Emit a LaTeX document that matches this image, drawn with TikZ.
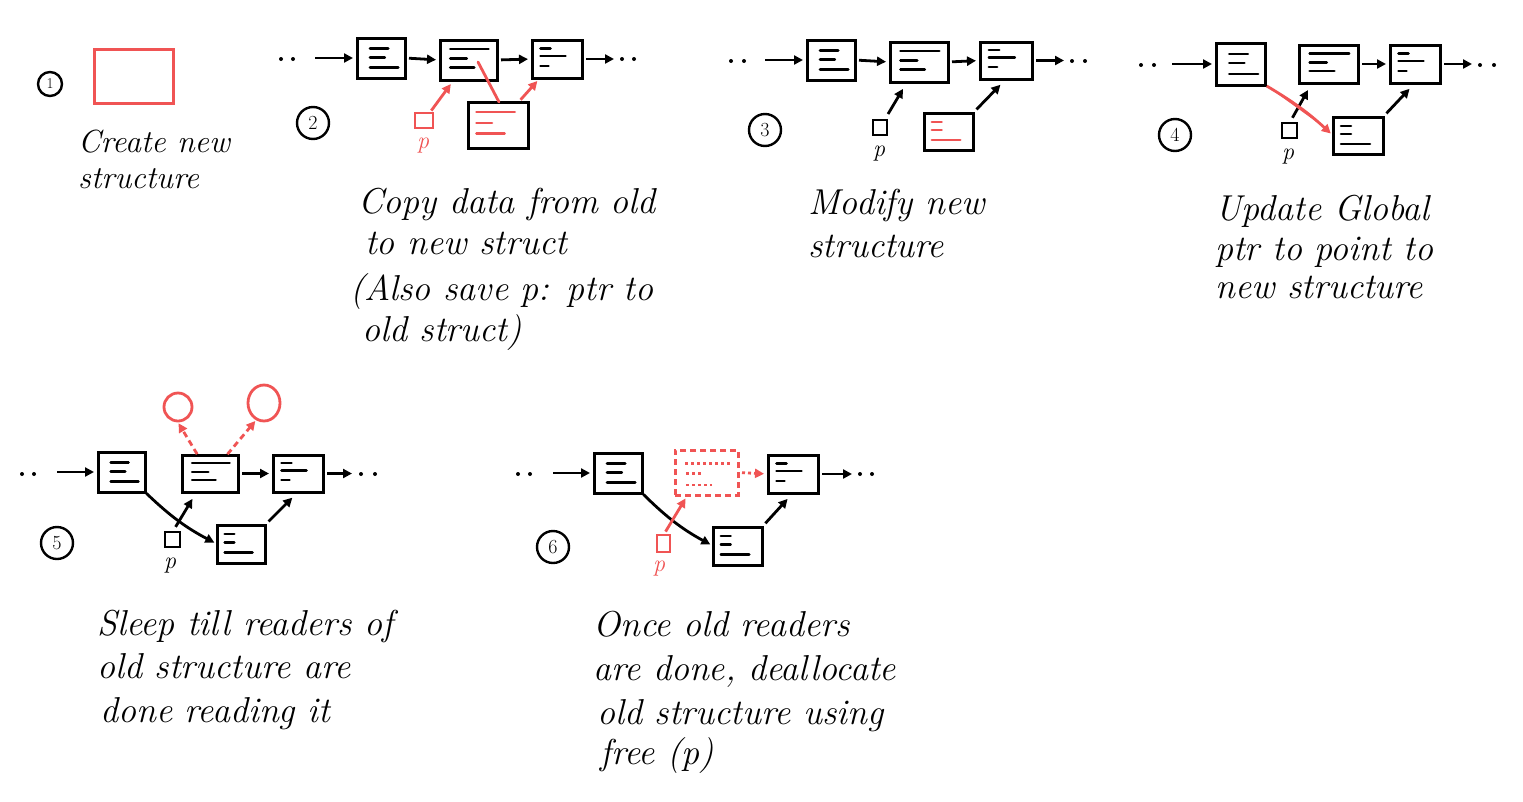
\documentclass[tikz,border=0pt]{standalone}
\usetikzlibrary{arrows.meta,calc,shapes.geometric}
\definecolor{hred}{RGB}{240,84,84}
\tikzset{
  sbox/.style={draw, line width=3pt, inner sep=0pt, outer sep=0pt},
  inl/.style={line width=2.6pt, line cap=round},
  inlred/.style={inl, draw=hred},
  inldot/.style={line width=2.6pt, draw=hred, dash pattern=on 3pt off 3pt},
  arr/.style={line width=2.8pt, -{Triangle[length=9pt,width=9pt]}, shorten >=4pt, shorten <=4pt},
  rarr/.style={arr, draw=hred, fill=hred},
  rdarr/.style={arr, draw=hred, dash pattern=on 6pt off 4pt},
  rdotarr/.style={arr, draw=hred, dash pattern=on 3pt off 3pt},
  circnum/.style={circle, draw, line width=2.4pt, minimum size=32pt, inner sep=0pt, font=\fontsize{20}{20}\selectfont},
  psq/.style={draw, line width=2.6pt, inner sep=0pt, outer sep=0pt},
  plab/.style={inner sep=0pt, font=\fontsize{24}{24}\selectfont\itshape},
  txt/.style={anchor=base west, inner sep=0pt, font=\fontsize{36}{40}\selectfont\itshape},
  txtsm/.style={txt, font=\fontsize{32}{34}\selectfont\itshape},
  dot/.style={circle, fill, inner sep=0pt, minimum size=4pt}
}
\newcommand\boxline[5]{%
  \draw[#1] ($ ($(#2.north west)!#3!(#2.south west)$)!#4!($(#2.north east)!#3!(#2.south east)$) $) -- ($ ($(#2.north west)!#3!(#2.south west)$)!#5!($(#2.north east)!#3!(#2.south east)$) $);}
\newcommand\linesA[2]{\boxline{#2}{#1}{0.26}{0.27}{0.65}\boxline{#2}{#1}{0.48}{0.27}{0.58}\boxline{#2}{#1}{0.74}{0.27}{0.86}}
\newcommand\linesB[2]{\boxline{#2}{#1}{0.22}{0.18}{0.85}\boxline{#2}{#1}{0.46}{0.18}{0.47}\boxline{#2}{#1}{0.68}{0.18}{0.6}}
\newcommand\linesC[2]{\boxline{#2}{#1}{0.22}{0.17}{0.37}\boxline{#2}{#1}{0.42}{0.17}{0.67}\boxline{#2}{#1}{0.68}{0.17}{0.33}}
\newcommand\linesM[2]{\boxline{#2}{#1}{0.22}{0.14}{0.78}\boxline{#2}{#1}{0.46}{0.14}{0.4}\boxline{#2}{#1}{0.68}{0.14}{0.61}}
\newcommand\linesN[2]{\boxline{#2}{#1}{0.24}{0.16}{0.36}\boxline{#2}{#1}{0.46}{0.16}{0.36}\boxline{#2}{#1}{0.73}{0.16}{0.74}}
\begin{document}
\begin{tikzpicture}[x=1pt,y=1pt]
\useasboundingbox[fill=white] (0,0) rectangle (1523,-801);

% ---------- Panel 1 ----------
\node[circnum, minimum size=24pt, font=\fontsize{15}{15}\selectfont] (c1) at (50,-84) {1};
\node[draw=hred, line width=3pt, minimum width=79pt, minimum height=54pt] (R1) at (133.5,-76) {};
\node[txtsm] (t1a) at (78,-152) {Create new};
\node[txtsm] (t1b) at (78,-188) {structure};

% ---------- Panel 2 ----------
\node[circnum] (c2) at (313,-123) {2};
\node[sbox, minimum width=48pt, minimum height=40pt] (A2) at (381,-58) {};
\node[sbox, minimum width=57pt, minimum height=40pt] (B2) at (468.5,-60) {};
\node[sbox, minimum width=50pt, minimum height=38pt] (C2) at (557,-59) {};
\node[sbox, minimum width=60pt, minimum height=46pt] (N2) at (498,-125) {};
\node[psq, draw=hred, minimum width=18pt, minimum height=15pt] (p2) at (424,-120.5) {};
\node[plab, text=hred] (pl2) at (423,-146) {p};
\linesA{A2}{inl}\linesB{B2}{inl}\linesC{C2}{inl}\linesM{N2}{inlred}
\node[dot] (d2a) at (281,-59) {}; \node[dot] (d2b) at (293,-59) {};
\coordinate (s2) at (315,-58);
\coordinate (e2) at (614,-59);
\node[dot] (d2c) at (622,-59) {}; \node[dot] (d2d) at (634,-59) {};
\draw[arr, shorten <=0pt] (s2) -- (A2.west);
\draw[arr] (A2.east) -- (B2.west);
\draw[arr] (B2.east) -- (C2.west);
\draw[arr, shorten >=0pt] (C2.east) -- (e2);
\draw[rarr, shorten <=3pt, shorten >=5pt] (p2) -- (B2);
\draw[rarr, shorten <=3pt, shorten >=4pt] (N2) -- (C2);
\draw[inlred, line width=2.8pt] ($(B2.center)+(9.5,-2)$) -- ([xshift=1pt]N2.north);
\node[txt] (t2a) at (358,-213) {Copy data from old};
\node[txt] (t2b) at (365,-254) {to new struct};
\node[txt] (t2c) at (350,-300) {(Also save p: ptr to};
\node[txt] (t2d) at (362,-341) {old struct)};

% ---------- Panel 3 ----------
\node[circnum] (c3) at (765,-130) {3};
\node[sbox, minimum width=48pt, minimum height=40pt] (A3) at (831,-60) {};
\node[sbox, minimum width=58pt, minimum height=40pt] (B3) at (919,-62) {};
\node[sbox, minimum width=52pt, minimum height=37pt] (C3) at (1006,-60.5) {};
\node[sbox, minimum width=49pt, minimum height=37pt] (N3) at (948.5,-131.5) {};
\node[psq, minimum width=14pt, minimum height=15pt] (p3) at (880,-127.5) {};
\node[plab] (pl3) at (879,-154) {p};
\linesA{A3}{inl}\linesB{B3}{inl}\linesC{C3}{inl}\linesN{N3}{inlred}
\node[dot] (d3a) at (731,-61) {}; \node[dot] (d3b) at (744,-61) {};
\coordinate (s3) at (765,-60);
\coordinate (e3) at (1064,-60.5);
\node[dot] (d3c) at (1072,-61) {}; \node[dot] (d3d) at (1085,-61) {};
\draw[arr, shorten <=0pt] (s3) -- (A3.west);
\draw[arr] (A3.east) -- (B3.west);
\draw[arr] (B3.east) -- (C3.west);
\draw[arr, shorten >=0pt] (C3.east) -- (e3);
\draw[arr, shorten <=7pt, shorten >=8pt] (p3) -- (B3);
\draw[arr, shorten <=5pt, shorten >=8pt] (N3.north east) -- (C3.south);
\node[txt] (t3a) at (808,-214) {Modify new};
\node[txt] (t3b) at (808,-257) {structure};

% ---------- Panel 4 ----------
\node[circnum] (c4) at (1175,-135) {4};
\node[sbox, minimum width=49pt, minimum height=42pt] (A4) at (1240.5,-64) {};
\node[sbox, minimum width=59pt, minimum height=38pt] (B4) at (1328.5,-64) {};
\node[sbox, minimum width=50pt, minimum height=38pt] (C4) at (1415,-64) {};
\node[sbox, minimum width=50pt, minimum height=37pt] (N4) at (1358,-135.5) {};
\node[psq, minimum width=15pt, minimum height=15pt] (p4) at (1289.5,-130.5) {};
\node[plab] (pl4) at (1288,-157) {p};
\linesA{A4}{inl}\linesB{B4}{inl}\linesC{C4}{inl}\linesN{N4}{inl}
\node[dot] (d4a) at (1141,-65) {}; \node[dot] (d4b) at (1154,-65) {};
\coordinate (s4) at (1172,-64);
\coordinate (e4) at (1472,-64);
\node[dot] (d4c) at (1480,-65) {}; \node[dot] (d4d) at (1494,-65) {};
\draw[arr, shorten <=0pt] (s4) -- (A4.west);
\draw[arr] (B4.east) -- (C4.west);
\draw[arr, shorten >=0pt] (C4.east) -- (e4);
\draw[arr, shorten <=6pt, shorten >=8pt] (p4.north) -- ($(B4.south west)!0.22!(B4.south east)$);
\draw[arr, shorten <=5pt, shorten >=8pt] (N4.north east) -- (C4.south);
\draw[rarr, shorten <=2pt, shorten >=3pt] (A4.south east) to[bend left=6] (N4.west);
\node[txt] (t4a) at (1215,-220) {Update Global};
\node[txt] (t4b) at (1215,-260) {ptr to point to};
\node[txt] (t4c) at (1215,-298) {new structure};

% ---------- Panel 5 ----------
\node[circnum] (c5) at (57,-543) {5};
\node[sbox, minimum width=47pt, minimum height=40pt] (A5) at (121.5,-472) {};
\node[sbox, minimum width=56pt, minimum height=37pt] (B5) at (210,-473.5) {};
\node[sbox, minimum width=50pt, minimum height=37pt] (C5) at (298,-473.5) {};
\node[sbox, minimum width=48pt, minimum height=38pt] (N5) at (241,-544) {};
\node[psq, minimum width=15pt, minimum height=15pt] (p5) at (172.5,-539.5) {};
\node[plab] (pl5) at (170,-566) {p};
\node[ellipse, draw=hred, line width=2.8pt, minimum width=28pt, minimum height=28pt, inner sep=0pt] (E1) at (178,-407) {};
\node[ellipse, draw=hred, line width=2.8pt, minimum width=32pt, minimum height=36pt, inner sep=0pt] (E2) at (264,-403) {};
\linesA{A5}{inl}\linesB{B5}{inl}\linesC{C5}{inl}\linesN{N5}{inl}
\node[dot] (d5a) at (22,-474) {}; \node[dot] (d5b) at (34,-474) {};
\coordinate (s5) at (57,-472);
\coordinate (e5) at (352,-473.5);
\node[dot] (d5c) at (361,-474) {}; \node[dot] (d5d) at (375,-474) {};
\draw[arr, shorten <=0pt] (s5) -- (A5.west);
\draw[arr] (B5.east) -- (C5.west);
\draw[arr, shorten >=0pt] (C5.east) -- (e5);
\draw[arr, shorten <=6pt, shorten >=8pt] (p5.north) -- ($(B5.south west)!0.26!(B5.south east)$);
\draw[arr, shorten <=5pt, shorten >=8pt] (N5.north east) -- (C5.south);
\draw[arr, shorten <=2pt, shorten >=3pt] (A5.south east) to[bend right=8] (N5.west);
\draw[rdarr, shorten <=1pt, shorten >=1pt] ($(B5.north west)!0.28!(B5.north east)$) -- (E1.south);
\draw[rdarr, shorten <=1pt, shorten >=1pt] ($(B5.north west)!0.8!(B5.north east)$) -- (E2.245);
\node[txt] (t5a) at (97,-635) {Sleep till readers of};
\node[txt] (t5b) at (97,-678) {old structure are};
\node[txt] (t5c) at (100,-722) {done reading it};

% ---------- Panel 6 ----------
\node[circnum] (c6) at (553,-547) {6};
\node[sbox, minimum width=48pt, minimum height=40pt] (A6) at (618,-473) {};
\node[sbox, draw=hred, dash pattern=on 6pt off 4pt, minimum width=63pt, minimum height=45pt] (D6) at (706.5,-472.5) {};
\node[sbox, minimum width=50pt, minimum height=38pt] (C6) at (793,-474) {};
\node[sbox, minimum width=49pt, minimum height=38pt] (N6) at (737.5,-546) {};
\node[psq, draw=hred, minimum width=13pt, minimum height=17pt] (p6) at (663.5,-543.5) {};
\node[plab, text=hred] (pl6) at (659,-569) {p};
\linesA{A6}{inl}\linesC{C6}{inl}\linesN{N6}{inl}
\boxline{inldot}{D6}{0.3}{0.16}{0.92}\boxline{inldot}{D6}{0.52}{0.18}{0.42}\boxline{inldot}{D6}{0.78}{0.18}{0.58}
\node[dot] (d6a) at (518,-474) {}; \node[dot] (d6b) at (530,-474) {};
\coordinate (s6) at (553,-473);
\coordinate (e6) at (852,-474);
\node[dot] (d6c) at (860,-474) {}; \node[dot] (d6d) at (872,-474) {};
\draw[arr, shorten <=0pt] (s6) -- (A6.west);
\draw[rdotarr] (D6.east) -- (C6.west);
\draw[arr, shorten >=0pt] (C6.east) -- (e6);
\draw[arr, shorten <=5pt, shorten >=8pt] (N6.north east) -- (C6.south);
\draw[arr, shorten <=2pt, shorten >=3pt] (A6.south east) to[bend right=8] (N6.west);
\draw[rarr, shorten <=4pt, shorten >=4pt] (p6.north) -- ($(D6.south west)!0.2!(D6.south east)$);
\node[txt] (t6a) at (593,-636) {Once old readers};
\node[txt] (t6b) at (593,-680) {are done, deallocate};
\node[txt] (t6c) at (597,-724) {old structure using};
\node[txt] (t6d) at (600,-764) {free (p)};
\end{tikzpicture}
\end{document}
